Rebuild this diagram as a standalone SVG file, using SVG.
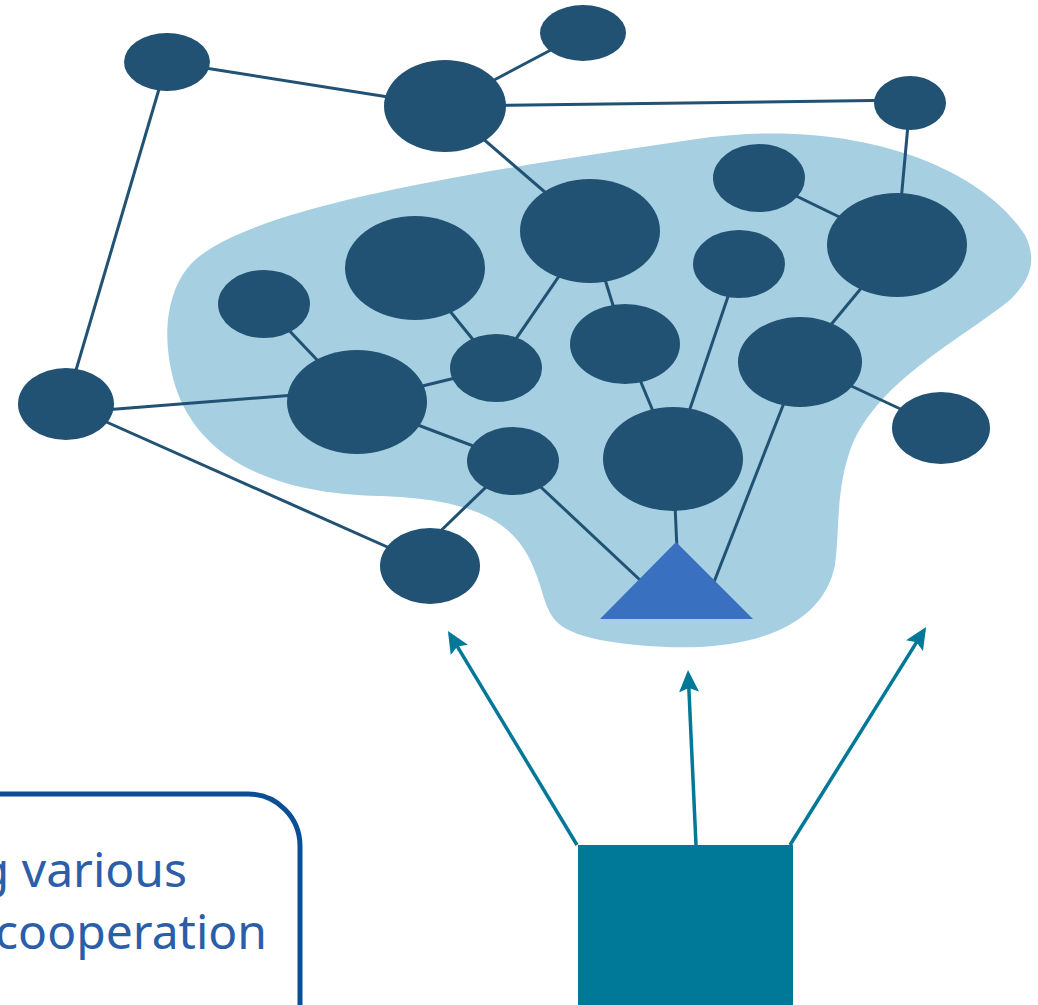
<svg xmlns="http://www.w3.org/2000/svg" width="1038" height="1005" viewBox="0 0 1038 1005">
<defs>
<style>
.n{fill:#215273}
.e{stroke:#215273;stroke-width:3;fill:none}
.a{stroke:#007898;stroke-width:3.5;fill:none;marker-end:url(#ah)}
.t{font-family:"Noto Sans","Open Sans","Liberation Sans",sans-serif;font-size:48px;fill:#2a5ea8}
</style>
<marker id="ah" viewBox="0 0 22 20" refX="18" refY="10" markerWidth="22" markerHeight="20" markerUnits="userSpaceOnUse" orient="auto"><path d="M0,0 L22,10 L0,20 L4,10 Z" fill="#007898"/></marker>
</defs>
<path id="blob" d="M190,265 C240,210 450,175 690,140 C850,115 980,165 1025,235 C1040,265 1025,285 1010,300 C960,340 880,380 852,445 C835,490 840,530 835,565 C820,640 720,660 600,640 C555,630 550,620 540,585 C525,540 505,500 380,496 C260,494 195,450 175,385 C160,335 168,290 190,265 Z" fill="#a6d0e1"/>
<g id="connectors">
<line class="e" x1="167" y1="62" x2="445" y2="106"/>
<line class="e" x1="167" y1="62" x2="66" y2="404"/>
<line class="e" x1="445" y1="106" x2="583" y2="33"/>
<line class="e" x1="445" y1="106" x2="910" y2="100"/>
<line class="e" x1="445" y1="106" x2="590" y2="231"/>
<line class="e" x1="910" y1="103" x2="897" y2="245"/>
<line class="e" x1="759" y1="178" x2="897" y2="245"/>
<line class="e" x1="590" y1="231" x2="496" y2="368"/>
<line class="e" x1="590" y1="231" x2="625" y2="344"/>
<line class="e" x1="415" y1="268" x2="496" y2="368"/>
<line class="e" x1="264" y1="304" x2="357" y2="402"/>
<line class="e" x1="496" y1="368" x2="357" y2="402"/>
<line class="e" x1="66" y1="413" x2="357" y2="390"/>
<line class="e" x1="66" y1="404" x2="430" y2="566"/>
<line class="e" x1="357" y1="402" x2="513" y2="461"/>
<line class="e" x1="513" y1="461" x2="425" y2="546"/>
<line class="e" x1="513" y1="461" x2="640" y2="580"/>
<line class="e" x1="625" y1="344" x2="673" y2="459"/>
<line class="e" x1="739" y1="264" x2="673" y2="459"/>
<line class="e" x1="673" y1="459" x2="677" y2="550"/>
<line class="e" x1="800" y1="362" x2="714" y2="582"/>
<line class="e" x1="800" y1="362" x2="897" y2="245"/>
<line class="e" x1="800" y1="362" x2="941" y2="428"/>
<line class="a" x1="577" y1="845" x2="450" y2="634.4"/>
<line class="a" x1="696" y1="845" x2="688.2" y2="674"/>
<line class="a" x1="790" y1="845" x2="924" y2="630.4"/>
</g>
<g id="n1"><ellipse class="n" cx="167" cy="62" rx="43" ry="29"/></g>
<g id="n2"><ellipse class="n" cx="583" cy="33" rx="43" ry="28"/></g>
<g id="n3"><ellipse class="n" cx="445" cy="106" rx="61" ry="46"/></g>
<g id="n4"><ellipse class="n" cx="910" cy="103" rx="36" ry="27"/></g>
<g id="n5"><ellipse class="n" cx="759" cy="178" rx="46" ry="34"/></g>
<g id="n6"><ellipse class="n" cx="590" cy="231" rx="70" ry="52"/></g>
<g id="n7"><ellipse class="n" cx="897" cy="245" rx="70" ry="52"/></g>
<g id="n8"><ellipse class="n" cx="415" cy="268" rx="70" ry="52"/></g>
<g id="n9"><ellipse class="n" cx="739" cy="264" rx="46" ry="34"/></g>
<g id="n10"><ellipse class="n" cx="264" cy="304" rx="46" ry="34"/></g>
<g id="n11"><ellipse class="n" cx="625" cy="344" rx="55" ry="40"/></g>
<g id="n12"><ellipse class="n" cx="800" cy="362" rx="62" ry="45"/></g>
<g id="n13"><ellipse class="n" cx="496" cy="368" rx="46" ry="34"/></g>
<g id="n14"><ellipse class="n" cx="357" cy="402" rx="70" ry="52"/></g>
<g id="n15"><ellipse class="n" cx="66" cy="404" rx="48" ry="36"/></g>
<g id="n16"><ellipse class="n" cx="941" cy="428" rx="49" ry="36"/></g>
<g id="n17"><ellipse class="n" cx="513" cy="461" rx="46" ry="34"/></g>
<g id="n18"><ellipse class="n" cx="673" cy="459" rx="70" ry="52"/></g>
<g id="n19"><ellipse class="n" cx="430" cy="566" rx="50" ry="38"/></g>
<g id="triangle"><polygon points="676,542 600,619 753,619" fill="#3a70c0"/></g>
<g id="source"><rect x="578" y="845" width="215" height="170" fill="#007898"/></g>
<g id="textbox">
<rect x="-60" y="794" width="360" height="320" rx="52" fill="#ffffff" stroke="#0a4f96" stroke-width="5"/>
<text class="t" x="187" y="887" text-anchor="end">g various</text>
<text class="t" x="267" y="949" text-anchor="end">cooperation</text>
</g>
</svg>
